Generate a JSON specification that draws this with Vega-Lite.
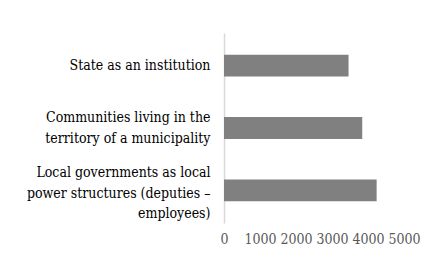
{
  "$schema": "https://vega.github.io/schema/vega-lite/v6.json",
  "width": 180,
  "height": 190,
  "autosize": {"type": "none"},
  "padding": {"left": 224, "top": 33, "right": 30, "bottom": 40},
  "background": "white",
  "data": {
    "values": [
      {"category": "State as an institution", "value": 3460},
      {"category": "Communities living in the|territory of a municipality", "value": 3840},
      {"category": "Local governments as local|power structures (deputies –|employees)", "value": 4240}
    ]
  },
  "mark": {"type": "bar", "color": "#808080"},
  "encoding": {
    "y": {
      "field": "category",
      "type": "nominal",
      "sort": null,
      "scale": {"paddingInner": 0.65, "paddingOuter": 0.35},
      "axis": {
        "title": null,
        "labelExpr": "split(datum.label, '|')",
        "labelFont": "DejaVu Serif Condensed",
        "labelFontSize": 14,
        "labelLineHeight": 20.5,
        "labelColor": "#000000",
        "labelPadding": 14,
        "labelLimit": 300,
        "labelOffset": {
          "condition": [
            {"test": "indexof(datum.value, 'Local') === 0", "value": -17},
            {"test": "indexof(datum.value, 'Communities') === 0", "value": -10}
          ],
          "value": 0
        },
        "ticks": false,
        "domainColor": "#d9d9d9",
        "domainWidth": 1.5
      }
    },
    "x": {
      "field": "value",
      "type": "quantitative",
      "scale": {"domain": [0, 5000], "nice": false},
      "axis": {
        "title": null,
        "values": [0, 1000, 2000, 3000, 4000, 5000],
        "format": "d",
        "labelFont": "DejaVu Serif Condensed",
        "labelFontSize": 14,
        "labelColor": "#595959",
        "labelPadding": 9,
        "labelOverlap": false,
        "labelFlush": false,
        "domain": false,
        "ticks": false,
        "grid": false
      }
    }
  },
  "config": {"view": {"stroke": null}}
}
